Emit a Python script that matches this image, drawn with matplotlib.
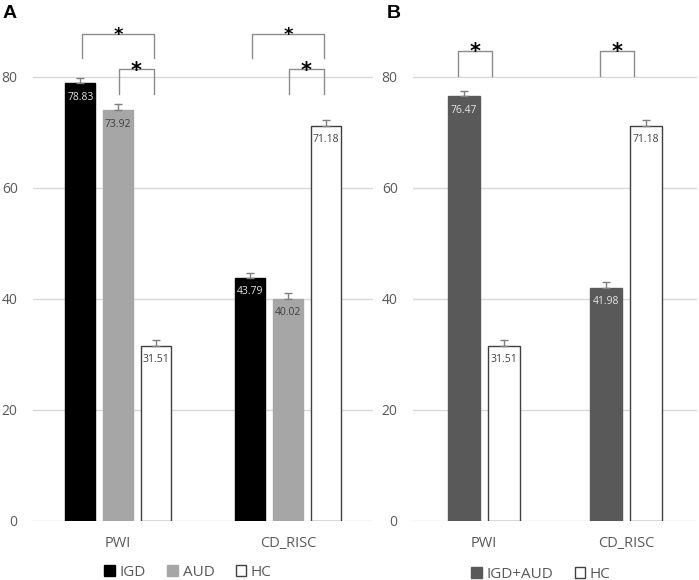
import numpy as np
import matplotlib
matplotlib.use('Agg')
import matplotlib.pyplot as plt
from matplotlib.patches import Patch

# dados
categorias = ['PWI', 'CD_RISC']
igd = [78.83, 43.79]
aud = [73.92, 40.02]
hc = [31.51, 71.18]
igd_aud = [76.47, 41.98]
erro_igd = [1.0, 0.9]
erro_aud = [1.1, 1.0]
erro_hc = [1.0, 1.0]
erro_igd_aud = [1.0, 1.0]
yticks = [0, 20, 40, 60, 80]

W, H = 699, 580
PX = 5.55  # pixels por unidade no eixo y
fig = plt.figure(figsize=(W / 100, H / 100), dpi=100)
plt.rcParams['font.family'] = ['Open Sans', 'DejaVu Sans']

GRID = '#d9d9d9'
TXT = '#595959'
BRACKET = '#8c8c8c'


def make_axes(x0, x1):
    ax = fig.add_axes([x0 / W, (H - 521) / H, (x1 - x0) / W, 521 / H])
    ax.set_xlim(-0.5, 1.5)
    ax.set_ylim(0, 93.8)
    ax.set_yticks(yticks)
    ax.set_xticks(range(len(categorias)))
    ax.set_xticklabels(categorias, fontsize=10.5, color=TXT)
    ax.tick_params(axis='y', length=0, pad=11, labelsize=10, labelcolor=TXT)
    ax.tick_params(axis='x', length=0, pad=11)
    for s in ax.spines.values():
        s.set_visible(False)
    ax.grid(axis='y', color=GRID, linewidth=1)
    ax.set_axisbelow(True)
    return ax


def barras(ax, xs, valores, erros, largura, cor, borda, cor_txt):
    ax.bar(xs, valores, largura, color=cor, edgecolor=borda, linewidth=1.0, zorder=2)
    ax.errorbar(xs, valores, yerr=[np.zeros(len(erros)), erros], fmt='none',
                ecolor='#7f7f7f', elinewidth=1, capsize=3, capthick=1, zorder=3)
    for x, v in zip(xs, valores):
        ax.text(x, v - 2.5, f'{v:.2f}', ha='center', va='center', fontsize=7.5,
                color=cor_txt, zorder=4)


def colchete(ax, x0, x1, y_base, y_topo, tam):
    ax.plot([x0, x0, x1, x1], [y_base, y_topo, y_topo, y_base], color=BRACKET,
            linewidth=1, zorder=3, clip_on=False)
    em = tam * 100 / 72
    desloc = (0.42 * em - 1) / PX
    ax.text((x0 + x1) / 2, y_topo - desloc, '*', ha='center', va='baseline', fontsize=tam,
            fontweight='bold', color='black', family='DejaVu Sans')


# ---------------- painel A ----------------
axA = make_axes(33, 373)
x = np.arange(len(categorias))
passo = 0.221
larg = 0.176
barras(axA, x - passo, igd, erro_igd, larg, '#000000', '#000000', '#e6e6e6')
barras(axA, x, aud, erro_aud, larg, '#a6a6a6', '#a6a6a6', '#404040')
barras(axA, x + passo, hc, erro_hc, larg, '#ffffff', '#404040', '#404040')
for g in x:
    colchete(axA, g - passo + 0.012, g + passo - 0.008, 83.4, 87.7, 13)
    colchete(axA, g + 0.005, g + passo - 0.008, 76.9, 81.3, 15)

axA.legend(handles=[Patch(facecolor='#000000', edgecolor='#000000', label='IGD'),
                    Patch(facecolor='#a6a6a6', edgecolor='#a6a6a6', label='AUD'),
                    Patch(facecolor='#ffffff', edgecolor='#404040', label='HC')],
           loc='center', bbox_to_anchor=((188 - 33) / 340, -(572 - 521) / 521),
           ncol=3, frameon=False, fontsize=11, handlelength=0.7, handleheight=0.7,
           handletextpad=0.3, columnspacing=1.4, labelcolor=TXT)

# ---------------- painel B ----------------
axB = make_axes(413, 697)
passoB = 0.141
largB = 0.226
barras(axB, x - passoB, igd_aud, erro_igd_aud, largB, '#595959', '#595959', '#e6e6e6')
barras(axB, x + passoB, hc, erro_hc, largB, '#ffffff', '#404040', '#404040')
for g in x:
    colchete(axB, g - passoB - 0.045, g + passoB - 0.085, 80.2, 84.7, 15)

axB.legend(handles=[Patch(facecolor='#595959', edgecolor='#595959', label='IGD+AUD'),
                    Patch(facecolor='#ffffff', edgecolor='#404040', label='HC')],
           loc='center', bbox_to_anchor=((541 - 413) / 284, -(574 - 521) / 521),
           ncol=2, frameon=False, fontsize=11, handlelength=0.7, handleheight=0.7,
           handletextpad=0.3, columnspacing=1.4, labelcolor=TXT)

fig.text(3 / W, 1 - 14 / H, 'A', fontsize=14, fontweight='bold', family='Liberation Sans',
         va='center', ha='left')
fig.text(387 / W, 1 - 14 / H, 'B', fontsize=14, fontweight='bold', family='Liberation Sans',
         va='center', ha='left')

fig.savefig('out.png', dpi=100)
